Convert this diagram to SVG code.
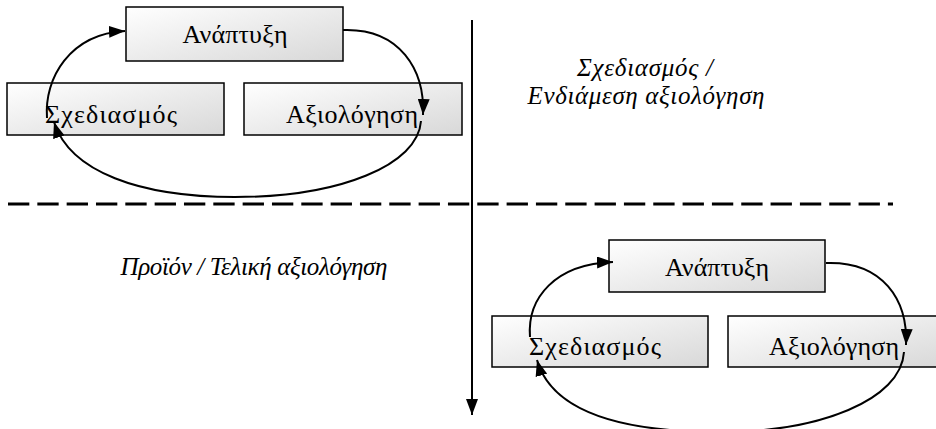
<svg xmlns="http://www.w3.org/2000/svg" width="936" height="429" viewBox="0 0 936 429">
<defs>
<linearGradient id="boxfill" x1="0" y1="0" x2="1" y2="1">
<stop offset="0" stop-color="#ffffff"/>
<stop offset="1" stop-color="#d8d8d8"/>
</linearGradient>
<marker id="arrow" viewBox="0 0 16 12" refX="16" refY="6" markerWidth="16" markerHeight="12" markerUnits="userSpaceOnUse" orient="auto">
<path d="M0,0 L16,6 L0,12 Z" fill="#000"/>
</marker>
</defs>
<style>
.box{fill:url(#boxfill);stroke:#000;stroke-width:1.5}
.lbl{font-family:'Liberation Serif','Times New Roman',serif;font-size:26px;fill:#000;text-anchor:middle}
.cap{font-family:'Liberation Serif','Times New Roman',serif;font-size:25px;font-style:italic;fill:#000;text-anchor:middle}
.conn{fill:none;stroke:#000;stroke-width:2;marker-end:url(#arrow)}
</style>
<rect width="936" height="429" fill="#fff"/>
<g id="divider">
<line x1="8" y1="204" x2="893" y2="204" stroke="#000" stroke-width="3" stroke-dasharray="21.33 8"/>
</g>
<g id="node-tl-anaptyxi"><rect class="box" x="126" y="7" width="217" height="54"/><text class="lbl" x="235" y="43" textLength="105" lengthAdjust="spacing">Ανάπτυξη</text></g>
<g id="node-tl-schediasmos"><rect class="box" x="7" y="83" width="217" height="52"/><text class="lbl" x="111" y="123" textLength="132" lengthAdjust="spacing">Σχεδιασμός</text></g>
<g id="node-tl-axiologisi"><rect class="box" x="244" y="83" width="218" height="52"/><text class="lbl" x="352" y="123" textLength="132" lengthAdjust="spacing">Αξιολόγηση</text></g>
<g id="node-br-anaptyxi"><rect class="box" x="609" y="240" width="216" height="52"/><text class="lbl" x="717" y="276" textLength="104" lengthAdjust="spacing">Ανάπτυξη</text></g>
<g id="node-br-schediasmos"><rect class="box" x="492" y="316" width="216" height="51"/><text class="lbl" x="595" y="355" textLength="132" lengthAdjust="spacing">Σχεδιασμός</text></g>
<g id="node-br-axiologisi"><rect class="box" x="728" y="316" width="216" height="51"/><text class="lbl" x="834" y="355" textLength="130" lengthAdjust="spacing">Αξιολόγηση</text></g>
<g id="caption-intermediate"><text class="cap" x="645" y="76" textLength="136" lengthAdjust="spacing">Σχεδιασμός /</text><text class="cap" x="646" y="104" textLength="237" lengthAdjust="spacing">Ενδιάμεση αξιολόγηση</text></g>
<g id="caption-final"><text class="cap" x="254" y="275" textLength="267" lengthAdjust="spacing">Προϊόν / Τελική αξιολόγηση</text></g>
<g id="connectors">
<path class="conn" d="M47,118 C44,78 70,34 125,31"/>
<path class="conn" d="M343,30 C400,28 425,70 423,115"/>
<path class="conn" d="M421,121 C418,165 340,197 235,197 C140,197 70,172 54,122"/>
<path class="conn" d="M530,337 C527,298 555,264 613,262"/>
<path class="conn" d="M826,263 C883,261 908,300 906,345"/>
<path class="conn" d="M904,352 C901,400 820,432 720,432 C620,432 552,412 537,360"/>
<line class="conn" x1="472" y1="20" x2="472" y2="415"/>
</g>
</svg>
